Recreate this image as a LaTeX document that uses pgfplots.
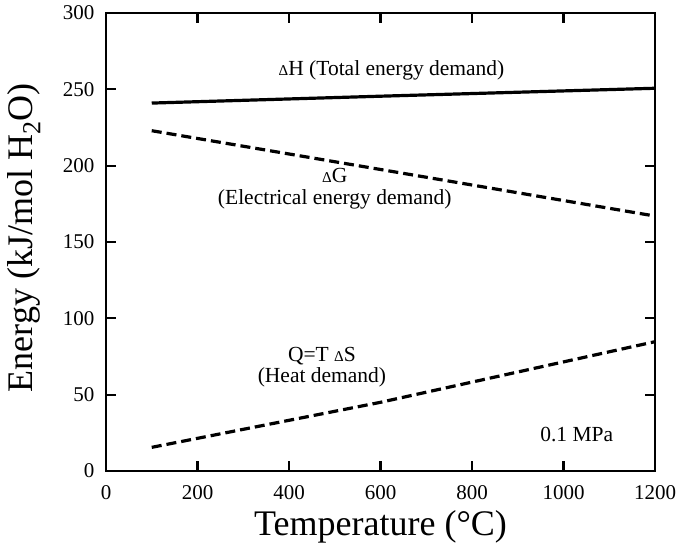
\documentclass[border=0pt]{standalone}
\usepackage{fontspec}
\setmainfont{Liberation Serif}
\usepackage{pgfplots}
\pgfplotsset{compat=1.18}

\newcommand{\dlt}{{\fontsize{15}{15}\selectfont Δ}}

\begin{document}
\begin{tikzpicture}
\path[use as bounding box] (-106pt,-78pt) rectangle (570pt,471pt);
\begin{axis}[
    scale only axis,
    width=549pt, height=458pt,
    xmin=0, xmax=1200,
    ymin=0, ymax=300,
    xtick={0,200,...,1200},
    ytick={0,50,...,300},
    tick align=inside,
    major tick length=10pt,
    axis line style={line width=2.8pt},
    every tick/.style={line width=2.2pt, black},
    tick label style={font=\fontsize{21}{21}\selectfont},
    /pgf/number format/assume math mode=true,
    /pgf/number format/1000 sep={},
    xticklabel style={yshift=-11pt},
    yticklabel style={xshift=-8pt},
    xlabel={Temperature (°C)},
    ylabel={Energy (kJ/mol H\raisebox{-0.5ex}{\fontsize{26}{26}\selectfont 2}O)},
    label style={font=\fontsize{36}{36}\selectfont},
    xlabel style={at={(axis description cs:0.5,0)}, anchor=north, yshift=-36pt},
    ylabel style={at={(axis description cs:0,0.5)}, anchor=south, yshift=62pt, xshift=4pt},
    clip=false,
]
\addplot[black, line width=3.2pt] coordinates {
  (100,241.0) (600,245.5) (1200,250.7)
};
\addplot[black, line width=3.2pt, dash pattern=on 10pt off 5pt] coordinates {
  (100,222.9) (600,197.5) (1200,167.0)
};
\addplot[black, line width=3.2pt, dash pattern=on 10pt off 5pt] coordinates {
  (100,15.5) (600,45.0) (1200,84.7)
};
\node[font=\fontsize{21.5}{21.5}\selectfont] at (axis cs:624,262.7) {\dlt H (Total energy demand)};
\node[font=\fontsize{21.5}{21.5}\selectfont, align=center] at (axis cs:500,185) {\dlt G\\(Electrical energy demand)};
\node[font=\fontsize{21.5}{21.5}\selectfont, align=center] at (axis cs:472,68) {Q=T \dlt S\\(Heat demand)};
\node[font=\fontsize{21.5}{21.5}\selectfont] at (axis cs:1029,24) {0.1 MPa};
\end{axis}
\end{tikzpicture}
\end{document}
